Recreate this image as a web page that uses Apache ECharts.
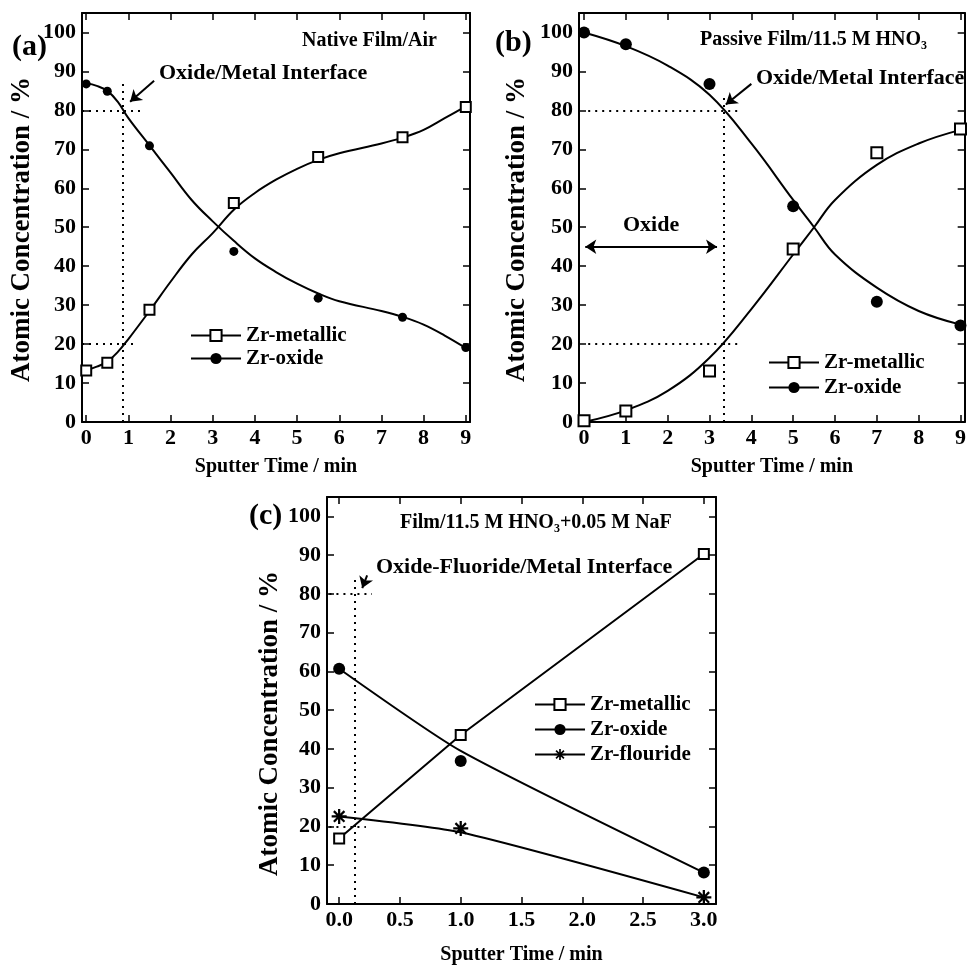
<!DOCTYPE html>
<html>
<head>
<meta charset="utf-8">
<script src="https://cdn.jsdelivr.net/npm/echarts@6/dist/echarts.min.js"></script>
<style>
  html, body { margin: 0; padding: 0; background: #fff; }
  #chart { width: 969px; height: 966px; }
</style>
</head>
<body>
<div id="chart"></div>
<script>
// panel (a) native film / air
const aTime = [0, 0.5, 1.5, 3.5, 5.5, 7.5, 9]
const aMetallic = [13.2, 15.2, 28.8, 56.2, 68.0, 73.1, 80.9]
const aOxide = [86.8, 84.9, 70.9, 43.8, 31.8, 26.9, 19.1]
// fitted curves
const aFitTime = [0, 0.25, 0.5, 0.75, 1, 1.5, 2, 2.5, 3, 3.5, 4, 4.5, 5, 5.5, 6, 7, 7.5, 8, 8.5, 9]
const aFitMetallic = [13.2, 14.2, 15.5, 18, 21.3, 28.5, 36, 43, 48.5, 54.5, 58.8, 62.2, 65, 67.3, 69, 71.5, 73, 75, 78, 81]
const aFitOxide = [87, 86.3, 85, 82.2, 78, 71, 64, 57, 51.5, 46.5, 42, 38.5, 35.5, 33, 31, 28.5, 27, 25, 22.2, 19]

// panel (b) passive film / 11.5 M HNO3
const bTime = [0, 1, 3, 5, 7, 9]
const bMetallic = [0.3, 2.8, 13.1, 44.4, 69.1, 75.2]
const bOxide = [100, 97, 86.8, 55.4, 30.9, 24.8]
const bFitTime = [0, 1, 2, 3, 4, 5, 5.5, 6, 7, 8, 9]
const bFitMetallic = [0, 3, 8, 16.5, 29, 43, 50, 57, 66, 71.5, 75]
const bFitOxide = [100, 96.5, 91.5, 84, 71.5, 57, 50, 43, 34.5, 28.5, 25]

// panel (c) film / 11.5 M HNO3 + 0.05 M NaF
const cTime = [0, 1, 3]
const cMetallic = [16.9, 43.6, 90.3]
const cOxide = [60.7, 36.9, 8.1]
const cFluoride = [22.6, 19.5, 1.7]
const cFitMetallic = [16.9, 43.6, 90.3]
const cFitOxide = [60.7, 39.5, 8.1]
const cFitFluoride = [22.6, 18.5, 1.7]

const timeTicks9 = [0, 1, 2, 3, 4, 5, 6, 7, 8, 9]
const timeTicks3 = [0, 0.5, 1, 1.5, 2, 2.5, 3]
const concTicks = [0, 10, 20, 30, 40, 50, 60, 70, 80, 90, 100]

const FONT = "'Liberation Serif', 'Times New Roman', serif"
// eight-armed asterisk
const STAR = 'path://M-1.5,-10L1.5,-10L1.5,10L-1.5,10Z M-10,-1.5L10,-1.5L10,1.5L-10,1.5Z ' +
  'M-6,-8.1L8.1,6L6,8.1L-8.1,-6Z M-8.1,6L6,-8.1L8.1,-6L-6,8.1Z'

const pair = (xs, ys) => xs.map((x, i) => [x, ys[i]])

const chart = echarts.init(document.getElementById('chart'))

const frame = { show: true, onZero: false, lineStyle: { color: '#000', width: 2 } }
const tick = (vals) => ({ show: true, inside: true, length: 7, customValues: vals, lineStyle: { color: '#000', width: 1.5 } })
const labelStyle = { color: '#000', fontFamily: FONT, fontWeight: 'bold', fontSize: 22 }

const xAxes = (grid, min, max, vals, fmt, nameGap) => [
  {
    gridIndex: grid, type: 'value', position: 'bottom', min, max,
    axisLine: frame, axisTick: tick(vals), splitLine: { show: false },
    axisLabel: { ...labelStyle, margin: 5, customValues: vals, formatter: fmt },
    name: 'Sputter Time / min', nameLocation: 'middle', nameGap,
    nameTextStyle: { color: '#000', fontFamily: FONT, fontWeight: 'bold', fontSize: 20 }
  },
  {
    gridIndex: grid, type: 'value', position: 'top', min, max,
    axisLine: frame, axisTick: tick(vals), splitLine: { show: false },
    axisLabel: { show: false }
  }
]

const yAxes = (grid, nameGap, shift) => [
  {
    gridIndex: grid, type: 'value', position: 'left', min: 0, max: 105,
    axisLine: frame, axisTick: tick(concTicks), splitLine: { show: false },
    axisLabel: { ...labelStyle, margin: 6, customValues: concTicks },
    name: 'Atomic Concentration / %', nameLocation: 'middle', nameGap,
    nameTextStyle: { color: '#000', fontFamily: FONT, fontWeight: 'bold', fontSize: 27, padding: [0, shift, 0, 0] }
  },
  {
    gridIndex: grid, type: 'value', position: 'right', min: 0, max: 105,
    axisLine: frame, axisTick: tick(concTicks), splitLine: { show: false },
    axisLabel: { show: false }
  }
]

const fit = (axis, data, smooth) => ({
  type: 'line', xAxisIndex: axis, yAxisIndex: axis, data, smooth,
  showSymbol: false, silent: true, z: 2,
  lineStyle: { color: '#000', width: 2 }
})

const marks = (axis, data, symbol, size, hollow, lines) => ({
  type: 'scatter', xAxisIndex: axis, yAxisIndex: axis, data, symbol, symbolSize: size,
  silent: true, z: 3,
  itemStyle: hollow
    ? { color: '#fff', borderColor: '#000', borderWidth: 2, opacity: 1 }
    : { color: '#000', opacity: 1 },
  markLine: lines ? { silent: true, symbol: 'none', label: { show: false }, animation: false, data: lines } : undefined
})

const dotted = { color: '#000', width: 2, type: [2, 5] }
const solid = { color: '#000', width: 2, type: 'solid' }
const seg = (p, q, style, sym) => [
  { coord: p, lineStyle: style, symbol: sym ? sym[0] : 'none', symbolSize: 11 },
  { coord: q, symbol: sym ? sym[1] : 'none', symbolSize: 11 }
]

const aLines = [
  seg([0.87, 0], [0.87, 87], dotted),
  seg([-0.1, 80], [1.35, 80], dotted),
  seg([-0.1, 20], [1.2, 20], dotted),
  seg([1.61, 87.6], [1.04, 82.2], solid, ['none', 'arrow'])
]
const bLines = [
  seg([3.33, 0], [3.33, 84], dotted),
  seg([0.1, 80], [3.67, 80], dotted),
  seg([0.1, 20], [3.67, 20], dotted),
  seg([4.0, 86.8], [3.39, 81.5], solid, ['none', 'arrow']),
  seg([0.03, 45], [3.18, 45], solid, ['arrow', 'arrow'])
]
const cLines = [
  seg([0.13, 0], [0.13, 84.3], dotted),
  seg([-0.08, 80], [0.27, 80], dotted),
  seg([-0.08, 20], [0.22, 20], dotted),
  seg([0.23, 84.8], [0.19, 81.5], solid, ['none', 'arrow'])
]

// empty series that only give the legends their icons
const legendSeries = (name, symbol, size, hollow) => ({
  type: 'line', name, data: [], xAxisIndex: 0, yAxisIndex: 0, symbol, symbolSize: size,
  lineStyle: { color: '#000', width: 2 },
  itemStyle: hollow ? { color: '#fff', borderColor: '#000', borderWidth: 2 } : { color: '#000' }
})

const legendText = { color: '#000', fontFamily: FONT, fontWeight: 'bold', fontSize: 21 }
const legend = (left, top, names, gap) => ({
  orient: 'vertical', left, top, itemWidth: 50, itemHeight: 14, itemGap: gap,
  selectedMode: false, textStyle: legendText, data: names, padding: 0
})

const txt = (x, y, text, size, rich) => ({
  type: 'text', x, y, silent: true,
  style: {
    text, fill: '#000', font: `bold ${size}px ${FONT}`, textAlign: 'left', textVerticalAlign: 'middle',
    rich
  }
})
const subRich = (size) => ({
  m: { fontFamily: FONT, fontWeight: 'bold', fontSize: size, lineHeight: 24 },
  s: { fontFamily: FONT, fontWeight: 'bold', fontSize: 12, lineHeight: 12, padding: [12, 0, 0, 0] }
})

const option = {
  backgroundColor: '#fff',
  animation: false,
  grid: [
    { left: 82, top: 13, width: 388, height: 409 },
    { left: 579, top: 13, width: 389, height: 409 },
    { left: 327, top: 497, width: 389, height: 410 }
  ],
  xAxis: [
    ...xAxes(0, -0.1, 9.1, timeTicks9, null, 35),
    ...xAxes(1, -0.12, 9.1, timeTicks9, null, 35),
    ...xAxes(2, -0.1, 3.1, timeTicks3, (v) => v.toFixed(1), 41)
  ],
  yAxis: [
    ...yAxes(0, 46, 24),
    ...yAxes(1, 48, 24),
    ...yAxes(2, 43, 46)
  ],
  legend: [
    legend(190, 325, ['Zr-metallic', 'Zr-oxide'], 2),
    legend(768, 352, ['Zr-metallic', 'Zr-oxide'], 4),
    legend(534, 694, ['Zr-metallic', 'Zr-oxide', 'Zr-flouride'], 4)
  ],
  graphic: [
    txt(12, 47, '(a)', 30),
    txt(302, 41, 'Native Film/Air', 20),
    txt(159, 73, 'Oxide/Metal Interface', 22),
    txt(495, 43, '(b)', 30),
    txt(700, 40, '{m|Passive Film/11.5 M HNO}{s|3}', 20, subRich(20)),
    txt(756, 78, 'Oxide/Metal Interface', 22),
    txt(623, 225, 'Oxide', 22),
    txt(249, 516, '(c)', 30),
    txt(400, 523, '{m|Film/11.5 M HNO}{s|3}{m|+0.05 M NaF}', 20, subRich(20)),
    txt(376, 567, 'Oxide-Fluoride/Metal Interface', 22)
  ],
  series: [
    legendSeries('Zr-metallic', 'rect', 11, true),
    legendSeries('Zr-oxide', 'circle', 12, false),
    legendSeries('Zr-flouride', STAR, 16, false),

    fit(0, pair(aFitTime, aFitMetallic), 0.4),
    fit(0, pair(aFitTime, aFitOxide), 0.4),
    marks(0, pair(aTime, aMetallic), 'rect', 10, true, aLines),
    marks(0, pair(aTime, aOxide), 'circle', 9, false),

    fit(2, pair(bFitTime, bFitMetallic), 0.4),
    fit(2, pair(bFitTime, bFitOxide), 0.4),
    marks(2, pair(bTime, bMetallic), 'rect', 11, true, bLines),
    marks(2, pair(bTime, bOxide), 'circle', 12, false),

    fit(4, pair(cTime, cFitMetallic), false),
    fit(4, pair(cTime, cFitOxide), 0.2),
    fit(4, pair(cTime, cFitFluoride), 0.2),
    marks(4, pair(cTime, cMetallic), 'rect', 10, true, cLines),
    marks(4, pair(cTime, cOxide), 'circle', 12, false),
    marks(4, pair(cTime, cFluoride), STAR, 15, false)
  ]
}

chart.setOption(option)

window.addEventListener('resize', () => {
  chart.resize()
})
</script>
</body>
</html>
